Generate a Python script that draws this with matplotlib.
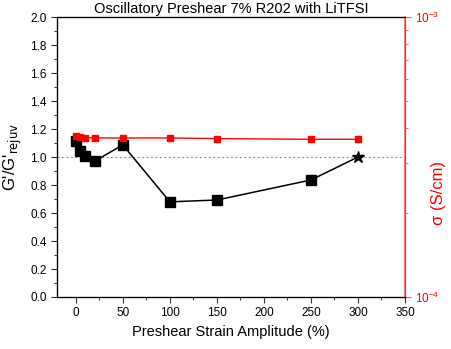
import matplotlib
matplotlib.use('Agg')
import matplotlib.pyplot as plt
from matplotlib.ticker import MultipleLocator, LogLocator, NullFormatter, FixedLocator

plt.rcParams['font.family'] = ['Liberation Sans', 'DejaVu Sans']

# G'/G'rejuv vs preshear strain
strain = [0, 5, 10, 20, 50, 100, 150, 250]
g_ratio = [1.115, 1.045, 1.01, 0.97, 1.087, 0.68, 0.693, 0.836]
ref_strain = [250, 300]
ref_ratio = [0.836, 1.0]

# conductivity (S/cm)
sig_strain = [0, 5, 10, 20, 50, 100, 150, 250, 300]
sigma = [3.76e-4, 3.73e-4, 3.71e-4, 3.70e-4, 3.70e-4, 3.70e-4, 3.68e-4, 3.66e-4, 3.66e-4]

fig = plt.figure(figsize=(4.52, 3.49), dpi=100)
ax = fig.add_axes([0.126, 0.149, 0.770, 0.802])

ax.axhline(1.0, color='#999999', ls=(0, (2, 2)), lw=0.8, zorder=1)
ax.plot(strain, g_ratio, '-s', color='black', lw=1.1, ms=6.5, zorder=3)
ax.plot(ref_strain, ref_ratio, '-', color='black', lw=1.1, zorder=3)
ax.plot([300], [1.0], '*', color='black', ms=9, zorder=4)

ax.set_xlim(-20, 350)
ax.set_ylim(0, 2.0)
ax.xaxis.set_major_locator(MultipleLocator(50))
ax.xaxis.set_minor_locator(MultipleLocator(25))
ax.yaxis.set_major_locator(MultipleLocator(0.2))
ax.yaxis.set_minor_locator(MultipleLocator(0.1))
ax.yaxis.set_major_formatter(matplotlib.ticker.FormatStrFormatter('%.1f'))
ax.tick_params(which='both', direction='out', labelsize=8.5, colors='#333333', labelcolor='black')
ax.tick_params(which='major', length=4, width=0.8)
ax.tick_params(which='minor', length=2.5, width=0.8)
ax.set_xlabel('Preshear Strain Amplitude (%)', fontsize=10.5)
ax.set_ylabel("G'/G'$_{\\rm rejuv}$", fontsize=12, labelpad=4)
ax.set_title('Oscillatory Preshear 7% R202 with LiTFSI', fontsize=10.5, pad=3)

ax2 = ax.twinx()
ax2.plot(sig_strain, sigma, '-s', color='#ff0000', lw=1.0, ms=4.5, zorder=3)
ax2.set_yscale('log')
ax2.set_ylim(1e-4, 1e-3)
ax2.yaxis.set_major_locator(FixedLocator([1e-4, 1e-3]))
ax2.yaxis.set_minor_locator(LogLocator(base=10, subs=range(2, 10)))
ax2.yaxis.set_minor_formatter(NullFormatter())
ax2.tick_params(axis='y', which='both', direction='out', colors='#ff5555', labelcolor='red', labelsize=8.5)
ax2.tick_params(axis='y', which='major', length=4)
ax2.tick_params(axis='y', which='minor', length=2.5)
ax2.spines['right'].set_color('#ff5555')
ax2.set_ylabel('σ (S/cm)', color='red', fontsize=12)
ax2.yaxis.set_label_coords(1.075, 0.37)

for s in ['top', 'left', 'bottom']:
    ax.spines[s].set_linewidth(0.9)
ax2.spines['right'].set_linewidth(1.1)

fig.savefig('out.png', dpi=100)
